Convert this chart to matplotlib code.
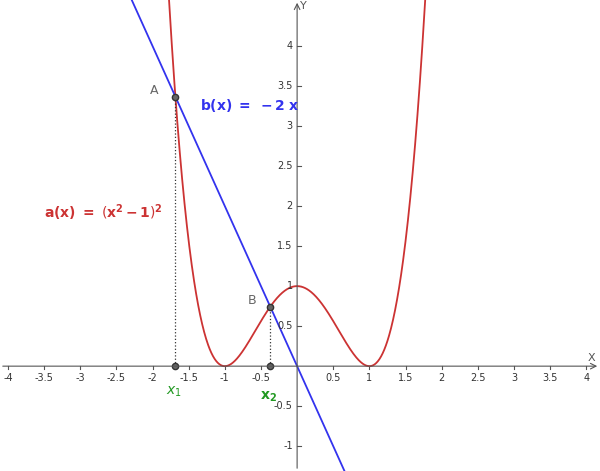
import numpy as np
import matplotlib
matplotlib.use("Agg")
import matplotlib.pyplot as plt

XMIN, XMAX, YMIN, YMAX = -4.11, 4.19, -1.31, 4.575
xticks = [-4, -3.5, -3, -2.5, -2, -1.5, -1, -0.5, 0.5, 1, 1.5, 2, 2.5, 3, 3.5, 4]
yticks = [-1, -0.5, 0.5, 1, 1.5, 2, 2.5, 3, 3.5, 4]
red, blue, green = "#cc3333", "#3333ee", "#229922"

def a(x): return (x**2 - 1)**2
def b(x): return -2 * x

# intersections of a and b: x^4 - 2x^2 + 2x + 1 = 0
r = np.roots([1, 0, -2, 2, 1])
r = np.sort(r[np.abs(r.imag) < 1e-9].real)
x1, x2 = r[0], r[1]

fig = plt.figure(figsize=(6, 4.71), dpi=100)
ax = fig.add_axes([0, 0, 1, 1])
ax.set_xlim(XMIN, XMAX); ax.set_ylim(YMIN, YMAX)
ax.axis("off")

# axes
ax.annotate("", xy=(XMAX, 0), xytext=(XMIN, 0),
            arrowprops=dict(arrowstyle="->", color="#555555", lw=0.8))
ax.annotate("", xy=(0, YMAX), xytext=(0, YMIN),
            arrowprops=dict(arrowstyle="->", color="#555555", lw=0.8))
for t in xticks:
    ax.plot([t, t], [0, -0.04], color="#555555", lw=0.8)
    ax.text(t, -0.09, ("%g" % t), ha="center", va="top", fontsize=7, color="#333333")
for t in yticks:
    ax.plot([0, 0.05], [t, t], color="#555555", lw=0.8)
    ax.text(-0.06, t, ("%g" % t), ha="right", va="center", fontsize=7, color="#333333")
ax.text(4.02, 0.04, "X", fontsize=8, color="#555555", va="bottom")
ax.text(0.04, 4.5, "Y", fontsize=8, color="#555555", va="center")

xs = np.linspace(XMIN, XMAX, 1500)
ax.plot(xs, a(xs), color=red, lw=1.3)
ax.plot(xs, b(xs), color=blue, lw=1.3)

for xi in (x1, x2):
    ax.plot([xi, xi], [0, b(xi)], color="#333333", lw=0.9, ls=":")
    ax.plot(xi, b(xi), "o", ms=4.5, mfc="#666666", mec="#333333")
    ax.plot(xi, 0, "o", ms=4.5, mfc="#666666", mec="#333333")

ax.text(x1 - 0.3, b(x1), "A", fontsize=9, color="#666666", ha="center", va="bottom")
ax.text(x2 - 0.25, b(x2), "B", fontsize=9, color="#666666", ha="center", va="bottom")
ax.text(-1.7, -0.35, r"$x_1$", fontsize=10, color=green, ha="center")
ax.text(-0.4, -0.42, r"$\mathbf{x_2}$", fontsize=10, color=green, ha="center")
ax.text(-1.35, 3.2, r"$\mathbf{b(x)\ =\ -2\ x}$", fontsize=10, color=blue)
ax.text(-3.5, 1.85, r"$\mathbf{a(x)\ =\ \left(x^2-1\right)^2}$", fontsize=10, color=red)

fig.savefig("out.png", dpi=100)
